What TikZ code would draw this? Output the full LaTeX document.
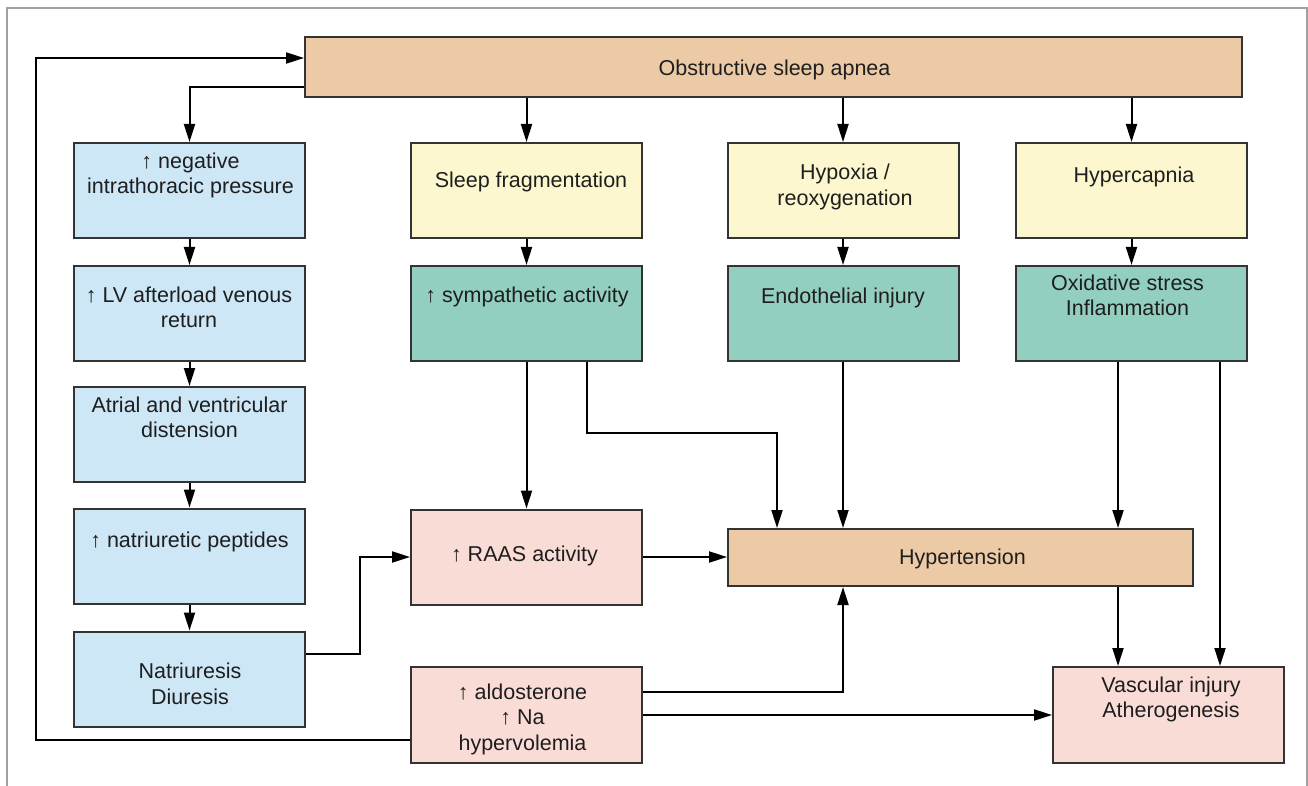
\documentclass[tikz,border=0pt]{standalone}
\usepackage{fontspec}
\setmainfont{Liberation Sans}
\usetikzlibrary{arrows.meta}
\definecolor{tanfill}{HTML}{EDCAA6}
\definecolor{bluefill}{HTML}{CDE7F6}
\definecolor{yellowfill}{HTML}{FCF7CE}
\definecolor{greenfill}{HTML}{93CFC0}
\definecolor{pinkfill}{HTML}{FADCD6}
\definecolor{edge}{HTML}{333333}
\definecolor{ink}{HTML}{1E1E1E}
\definecolor{frame}{HTML}{A0A0A0}
\tikzstyle{box}=[draw=edge, line width=2pt, minimum width=231pt, minimum height=95pt, inner sep=0pt]
\tikzstyle{lbl}=[align=center, text=ink, inner sep=0pt, font=\fontsize{21.5}{25.5}\selectfont]
\tikzstyle{arr}=[draw=black, line width=2pt, -{Triangle[length=18pt,width=11pt]}]

\begin{document}
\begin{tikzpicture}[x=1pt,y=-1pt]
\useasboundingbox (0,0) rectangle (1308,786);
\draw[frame, line width=2pt] (7,786) -- (7,8) -- (1307,8) -- (1307,786);
% boxes
\node[box, fill=tanfill, minimum width=937pt, minimum height=60pt] (osa) at (773.5,67) {};
\node[box, fill=bluefill] (neg) at (189.5,190.5) {};
\node[box, fill=bluefill] (lv) at (189.5,313.5) {};
\node[box, fill=bluefill] (atr) at (189.5,434.5) {};
\node[box, fill=bluefill] (nat) at (189.5,556) {};
\node[box, fill=bluefill] (diu) at (189.5,679) {};
\node[box, fill=yellowfill] (frag) at (526.5,190.5) {};
\node[box, fill=yellowfill] (hyp) at (843,190.5) {};
\node[box, fill=yellowfill] (cap) at (1131.5,190.5) {};
\node[box, fill=greenfill] (sym) at (526.5,313.5) {};
\node[box, fill=greenfill] (endo) at (843,313.5) {};
\node[box, fill=greenfill] (oxi) at (1131.5,313.5) {};
\node[box, fill=pinkfill] (raas) at (526.5,557) {};
\node[box, fill=pinkfill, minimum height=96pt] (aldo) at (526.5,715) {};
\node[box, fill=tanfill, minimum width=465pt, minimum height=57pt] (htn) at (960.5,557.5) {};
\node[box, fill=pinkfill, minimum height=96pt] (vasc) at (1168.5,715) {};
% labels
\node[lbl] (t-osa) at (774.5,70) {Obstructive sleep apnea};
\node[lbl] (t-neg) at (190.5,175.5) {↑ negative\\intrathoracic pressure};
\node[lbl] (t-lv) at (189,307.5) {↑ LV afterload venous\\return};
\node[lbl] (t-atr) at (189.5,417.5) {Atrial and ventricular\\distension};
\node[lbl] (t-nat) at (189.5,542) {↑ natriuretic peptides};
\node[lbl] (t-diu) at (190,684) {Natriuresis\\Diuresis};
\node[lbl] (t-frag) at (531,182) {Sleep fragmentation};
\node[lbl] (t-hyp) at (845,187) {Hypoxia /\\reoxygenation};
\node[lbl] (t-cap) at (1134,177) {Hypercapnia};
\node[lbl] (t-sym) at (527,297) {↑ sympathetic activity};
\node[lbl] (t-endo) at (843,298) {Endothelial injury};
\node[lbl] (t-oxi) at (1127.5,295.5) {Oxidative stress\\Inflammation};
\node[lbl] (t-raas) at (524.5,556) {↑ RAAS activity};
\node[lbl] (t-aldo) at (522.5,719) {↑ aldosterone\\↑ Na\\hypervolemia};
\node[lbl] (t-htn) at (962.5,559) {Hypertension};
\node[lbl] (t-vasc) at (1171,699.5) {Vascular injury\\Atherogenesis};
% joints
\coordinate (lp1) at (36,740);
\coordinate (lp2) at (36,58);
\coordinate (dj) at (360,557);
\coordinate (sj) at (777,433);
\coordinate (c1) at (1118,0);
\coordinate (c2) at (1220,0);
% connectors
\draw[arr] ([yshift=-20pt]osa.west) -| (neg.north);
\draw[arr] (osa.south -| frag) -- (frag.north);
\draw[arr] (osa.south -| hyp) -- (hyp.north);
\draw[arr] (osa.south -| cap) -- (cap.north);
\draw[arr] (neg) -- (lv);
\draw[arr] (lv) -- (atr);
\draw[arr] (atr) -- (nat);
\draw[arr] (nat) -- (diu);
\draw[arr] (frag) -- (sym);
\draw[arr] (hyp) -- (endo);
\draw[arr] (cap) -- (oxi);
\draw[arr] ([yshift=25pt]diu.east) -| (dj) -- (raas.west);
\draw[arr] (sym) -- (raas);
\draw[arr] ([xshift=60.5pt]sym.south) |- (sj) -- (sj |- htn.north);
\draw[arr] (endo) -- (endo |- htn.north);
\draw[arr] (oxi.south -| c1) -- (htn.north -| c1);
\draw[arr] (oxi.south -| c2) -- (vasc.north -| c2);
\draw[arr] (htn.south -| c1) -- (vasc.north -| c1);
\draw[arr] (raas.east) -- (raas.east -| htn.west);
\draw[arr] ([yshift=23pt]aldo.east) -| (htn.south -| endo);
\draw[arr] (aldo.east) -- (vasc.west);
\draw[arr] (aldo.west |- lp1) -- (lp1) -- (lp2) -- (lp2 -| osa.west);
\end{tikzpicture}
\end{document}
